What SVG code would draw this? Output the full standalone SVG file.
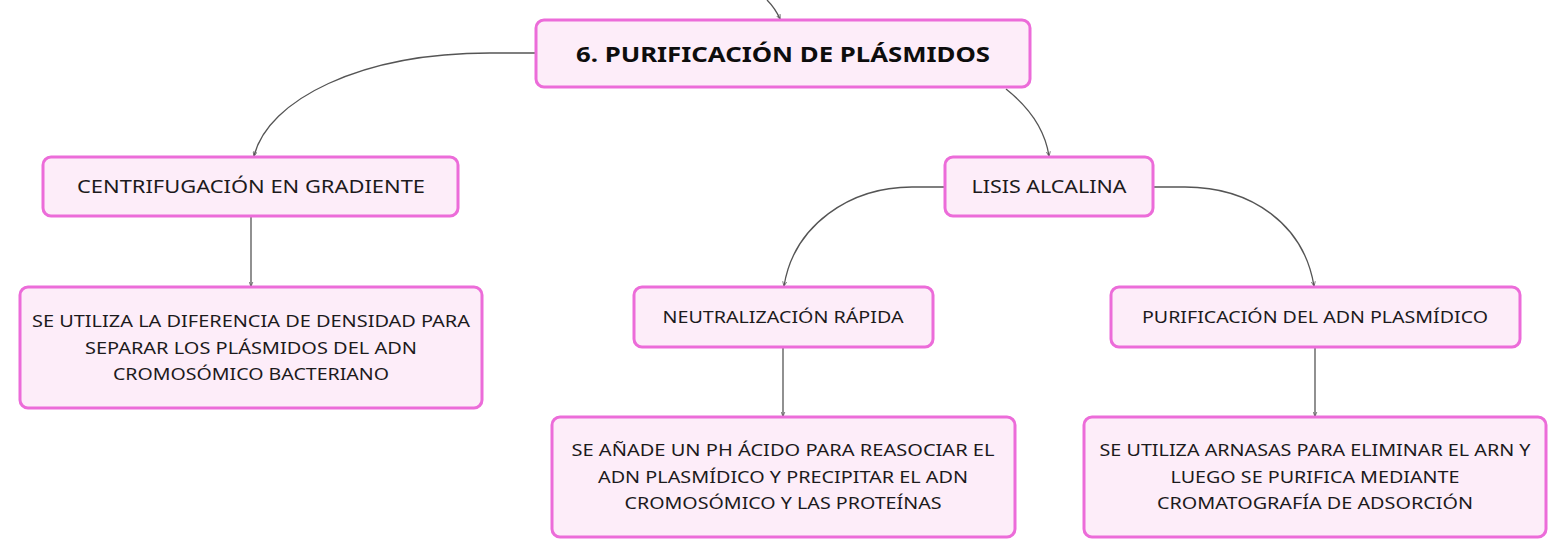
<svg xmlns="http://www.w3.org/2000/svg" width="1567" height="559" viewBox="0 0 1567 559">
<style>
.box{fill:#fdedf9;stroke:#ec6cd9;stroke-width:3}
.t{font-family:"Noto Sans","Open Sans",sans-serif;font-size:18px;fill:#1c1a1c;text-anchor:middle}
.d{font-family:"Noto Sans","Open Sans",sans-serif;font-size:17px;fill:#1c1a1c;text-anchor:middle}
.h{font-family:"Noto Sans","Open Sans",sans-serif;font-size:22px;font-weight:bold;fill:#0d0d0d;text-anchor:middle}
.c{fill:none;stroke:#555;stroke-width:1.3}
</style>
<defs>
<marker id="ah" viewBox="0 0 10 10" refX="9" refY="5" markerWidth="5" markerHeight="5" orient="auto" markerUnits="userSpaceOnUse">
<path d="M0,1 L10,5 L0,9" fill="none" stroke="#555" stroke-width="1.5"/>
</marker>
</defs>
<rect width="1567" height="559" fill="#ffffff"/>
<g id="connectors">
<path class="c" d="M767,0 C772,5 777,12 780,19" marker-end="url(#ah)"/>
<path class="c" d="M536,53 L490,53 C360,53 268,100 254,156" marker-end="url(#ah)"/>
<path class="c" d="M1006,89 C1030,108 1045,130 1049,156" marker-end="url(#ah)"/>
<path class="c" d="M251,217 L251,286" marker-end="url(#ah)"/>
<path class="c" d="M945,187 L912,187 C850,187 794,225 784,286" marker-end="url(#ah)"/>
<path class="c" d="M1153,187 L1185,187 C1252,187 1304,225 1314,286" marker-end="url(#ah)"/>
<path class="c" d="M783,348 L783,416" marker-end="url(#ah)"/>
<path class="c" d="M1315,348 L1315,416" marker-end="url(#ah)"/>
</g>
<g id="n_main">
<rect class="box" x="536" y="20" width="494" height="67" rx="8"/>
<text class="h" x="783" y="62" textLength="414" lengthAdjust="spacingAndGlyphs">6. PURIFICACIÓN DE PLÁSMIDOS</text>
</g>
<g id="n_centrifugacion">
<rect class="box" x="43" y="157" width="415" height="59" rx="8"/>
<text class="t" x="251" y="193" textLength="348" lengthAdjust="spacingAndGlyphs">CENTRIFUGACIÓN EN GRADIENTE</text>
</g>
<g id="n_lisis">
<rect class="box" x="945" y="157" width="208" height="59" rx="8"/>
<text class="t" x="1049" y="193" textLength="155" lengthAdjust="spacingAndGlyphs">LISIS ALCALINA</text>
</g>
<g id="n_densidad">
<rect class="box" x="20" y="287" width="462" height="121" rx="8"/>
<text class="d" x="251" y="327" textLength="438" lengthAdjust="spacingAndGlyphs">SE UTILIZA LA DIFERENCIA DE DENSIDAD PARA</text>
<text class="d" x="251" y="354" textLength="332" lengthAdjust="spacingAndGlyphs">SEPARAR LOS PLÁSMIDOS DEL ADN</text>
<text class="d" x="251" y="380" textLength="276" lengthAdjust="spacingAndGlyphs">CROMOSÓMICO BACTERIANO</text>
</g>
<g id="n_neutralizacion">
<rect class="box" x="634" y="287" width="299" height="60" rx="8"/>
<text class="d" x="783" y="323" textLength="241" lengthAdjust="spacingAndGlyphs">NEUTRALIZACIÓN RÁPIDA</text>
</g>
<g id="n_purificacion">
<rect class="box" x="1111" y="287" width="409" height="60" rx="8"/>
<text class="d" x="1315" y="323" textLength="346" lengthAdjust="spacingAndGlyphs">PURIFICACIÓN DEL ADN PLASMÍDICO</text>
</g>
<g id="n_ph">
<rect class="box" x="552" y="417" width="463" height="120" rx="8"/>
<text class="d" x="783" y="456" textLength="423" lengthAdjust="spacingAndGlyphs">SE AÑADE UN PH ÁCIDO PARA REASOCIAR EL</text>
<text class="d" x="783" y="483" textLength="370" lengthAdjust="spacingAndGlyphs">ADN PLASMÍDICO Y PRECIPITAR EL ADN</text>
<text class="d" x="783" y="509" textLength="317" lengthAdjust="spacingAndGlyphs">CROMOSÓMICO Y LAS PROTEÍNAS</text>
</g>
<g id="n_arnasas">
<rect class="box" x="1084" y="417" width="462" height="120" rx="8"/>
<text class="d" x="1315" y="456" textLength="431" lengthAdjust="spacingAndGlyphs">SE UTILIZA ARNASAS PARA ELIMINAR EL ARN Y</text>
<text class="d" x="1315" y="483" textLength="289" lengthAdjust="spacingAndGlyphs">LUEGO SE PURIFICA MEDIANTE</text>
<text class="d" x="1315" y="509" textLength="316" lengthAdjust="spacingAndGlyphs">CROMATOGRAFÍA DE ADSORCIÓN</text>
</g>
</svg>
